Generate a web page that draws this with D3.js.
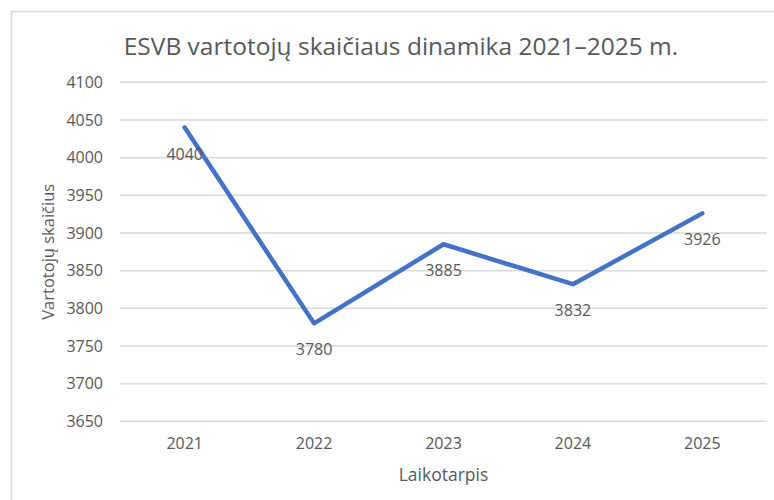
<!DOCTYPE html>
<html><head><meta charset="utf-8">
<script src="https://cdn.jsdelivr.net/npm/d3@7"></script>
<style>body{margin:0;background:#fff}svg{display:block}text{font-family:"Open Sans",sans-serif;fill:#595959}</style>
</head><body><svg id="c" width="774" height="500"></svg>
<script>
const categories = ["2021","2022","2023","2024","2025"];
const values = [4040, 3780, 3885, 3832, 3926];
const yTicks = [3650,3700,3750,3800,3850,3900,3950,4000,4050,4100];
const title = "ESVB vartotojų skaičiaus dinamika 2021–2025 m.";
const xTitle = "Laikotarpis";
const yTitle = "Vartotojų skaičius";

const svg = d3.select("#c");
const W = 774, H = 500;
const m = {left:120, right:7, top:82.3, bottom:78.7};
const pw = W - m.left - m.right, ph = H - m.top - m.bottom;

svg.append("rect").attr("x",11.5).attr("y",11.5).attr("width",W+10).attr("height",H+10)
  .attr("fill","#fff").attr("stroke","#d9d9d9").attr("stroke-width",1.5);

const x = d3.scaleBand().domain(categories).range([m.left, m.left+pw]);
const y = d3.scaleLinear().domain([3650,4100]).range([m.top+ph, m.top]);

svg.append("g").selectAll("line").data(yTicks).join("line")
  .attr("x1",m.left).attr("x2",m.left+pw)
  .attr("y1",d=>y(d)).attr("y2",d=>y(d))
  .attr("stroke","#d9d9d9").attr("stroke-width",1.5);

const ya = svg.append("g").attr("transform",`translate(${m.left},0)`)
  .call(d3.axisLeft(y).tickValues(yTicks).tickFormat(d3.format("d")).tickSize(0).tickPadding(17));
ya.select(".domain").remove();
ya.selectAll("text").attr("font-size",16).attr("font-family","Open Sans").attr("fill","#595959");

const xa = svg.append("g").attr("transform",`translate(0,${m.top+ph})`)
  .call(d3.axisBottom(x).tickSize(0).tickPadding(16));
xa.select(".domain").remove();
xa.selectAll("text").attr("font-size",16).attr("font-family","Open Sans").attr("fill","#595959");

const line = d3.line().x((d,i)=>x(categories[i])+x.bandwidth()/2).y(d=>y(d));
svg.append("path").datum(values).attr("d",line).attr("fill","none")
  .attr("stroke","#4472C4").attr("stroke-width",4.5)
  .attr("stroke-linejoin","round").attr("stroke-linecap","round");

svg.append("g").selectAll("text").data(values).join("text")
  .attr("x",(d,i)=>x(categories[i])+x.bandwidth()/2)
  .attr("y",d=>y(d)+32)
  .attr("text-anchor","middle").attr("font-size",16).text(d=>d);

svg.append("text").attr("x",401).attr("y",55).attr("text-anchor","middle")
  .attr("font-size",24.5).text(title);

svg.append("text").attr("x",m.left+pw/2).attr("y",481).attr("text-anchor","middle")
  .attr("font-size",17.5).text(xTitle);
svg.append("text").attr("transform",`translate(54,${m.top+ph/2}) rotate(-90)`)
  .attr("text-anchor","middle").attr("font-size",16.5).text(yTitle);
</script></body></html>
